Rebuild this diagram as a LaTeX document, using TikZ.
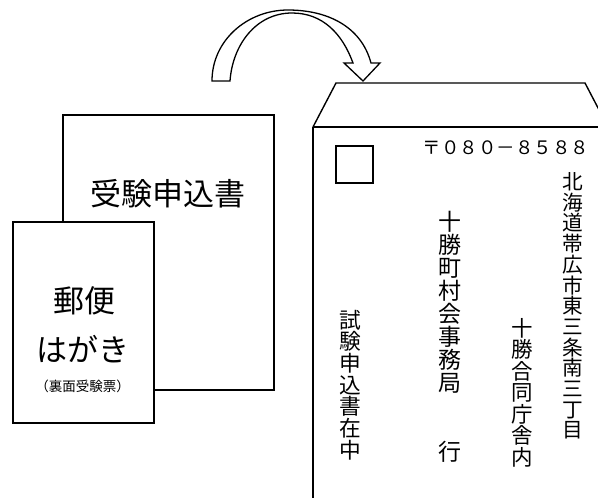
\documentclass[tikz,border=0pt]{standalone}
\usepackage{fontspec}
\setmainfont{Noto Sans CJK JP}
\begin{document}
\begin{tikzpicture}[x=1pt,y=-1pt,
  paper/.style={draw=black,line width=1.8pt,fill=white,inner sep=0pt},
  txt/.style={inner sep=0pt,align=center},
  vcol/.style={inner sep=0pt,align=center,font=\fontsize{#1}{#1}\selectfont},
  outline/.style={draw=black,line width=1.4pt}]
\useasboundingbox (0,0) rectangle (598,498);
\begin{scope}
\clip (0,0) rectangle (598,498);
% curved arrow
\draw[line width=1.3pt,fill=white,line join=miter]
  (212,81) to[out=90,in=180] (288,10) to[out=0,in=105] (371,63) -- (380,63) -- (363,81) -- (344,63) -- (353,63)
  to[out=110,in=0] (292,13) to[out=180,in=86] (230,81) -- cycle;
% documents
\node[paper,minimum width=211,minimum height=275] (form) at (168.5,252.5) {};
\node[txt,font=\fontsize{31}{31}\selectfont] (formtxt) at (168,194) {受験申込書};
\node[paper,minimum width=141,minimum height=201] (card) at (83.5,322.5) {};
\node[txt,font=\fontsize{31}{31}\selectfont] (card1) at (84,301) {郵便};
\node[txt,font=\fontsize{31}{31}\selectfont] (card2) at (83,349) {はがき};
\node[txt,font=\fontsize{13.5}{13.5}\selectfont] (card3) at (82.5,386) {（裏面受験票）};
% envelope
\coordinate (fl) at (313,127);
\coordinate (ftl) at (336,83);
\coordinate (ftr) at (585,83);
\coordinate (fr) at (608,127);
\draw[outline] (fl) -- (ftl) -- (ftr) -- (fr);
\draw[outline] (fl) -- (620,127);
\draw[line width=2pt] (fl) -- (313,510);
\node[draw,line width=1.5pt,minimum width=37,minimum height=37,inner sep=0pt] (stamp) at (354.5,164.5) {};
\node[txt,font=\fontsize{18.5}{18.5}\selectfont] (zip) at (506,148) {〒０８０－８５８８};
\node[vcol=20.7] (addr) at (573,306) {北\\海\\道\\帯\\広\\市\\東\\三\\条\\南\\三\\丁\\目};
\node[vcol=23] (dest) at (450,337) {十\\勝\\町\\村\\会\\事\\務\\局\\[46pt]行};
\node[vcol=21.5] (bldg) at (522,392.5) {十\\勝\\合\\同\\庁\\舎\\内};
\node[vcol=21.7] (encl) at (350,385) {試\\験\\申\\込\\書\\在\\中};
\end{scope}
\end{tikzpicture}
\end{document}
